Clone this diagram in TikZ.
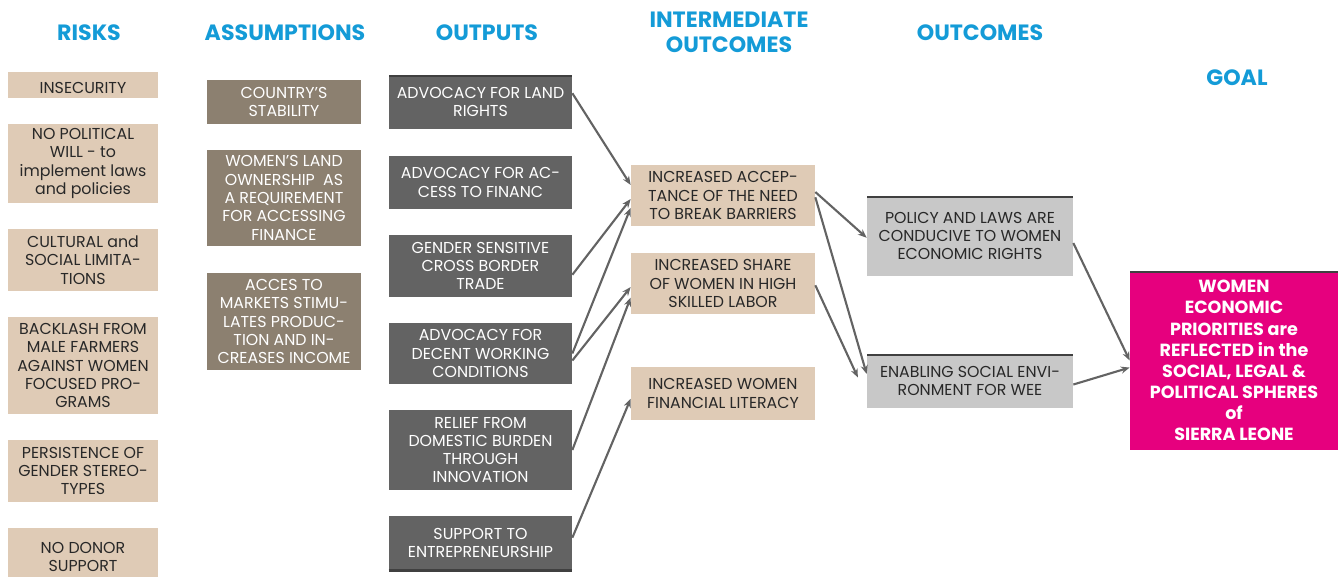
\documentclass[tikz,border=0pt]{standalone}
\usepackage{fontspec}
\setmainfont{Poppins}
\usepackage{tikz}
\usetikzlibrary{
  arrows.meta,
  positioning,
}
\definecolor{tanbox}{RGB}{223, 203, 182}
\definecolor{brownbox}{RGB}{140, 128, 112}
\definecolor{darkbox}{RGB}{99, 99, 99}
\definecolor{lightbox}{RGB}{200, 200, 200}
\definecolor{goalpink}{RGB}{230, 0, 126}
\definecolor{headblue}{RGB}{20, 155, 215}
\definecolor{darktext}{RGB}{40, 40, 40}
\tikzstyle{arrow} = [
  -{Stealth[length=5pt, width=4pt]},
  line width=1.2pt,
  darkbox,
]

\begin{document}
\begin{tikzpicture}[x=0.02cm, y=-0.02cm,
    box/.style={inner sep=1pt, align=center,
                font=\fontsize{9}{10.4}\selectfont,
                execute at begin node={\rule{0pt}{10pt}}},
    topline/.style={path picture={\draw[line width=2pt, black!75]
        (path picture bounding box.north west) --
        (path picture bounding box.north east);}},
    risk/.style={box, fill=tanbox, text=darktext, minimum width=3cm},
    assum/.style={box, fill=brownbox, text=white, minimum width=3.08cm},
    outp/.style={box, fill=darkbox, text=white, minimum width=3.66cm},
    inter/.style={box, fill=tanbox, text=darktext, minimum width=3.68cm},
    outc/.style={box, fill=lightbox, text=darktext, minimum width=4.12cm,
                 topline},
    goalbox/.style={box, fill=goalpink, text=white, minimum width=4.16cm,
                    font=\fontsize{10}{12}\selectfont\bfseries, topline},
    head/.style={text=headblue, align=center,
                 font=\fontsize{12.6}{14.2}\selectfont\bfseries}]
  \useasboundingbox (0,0) rectangle (1343,576);

  % column headings
  \node [head] (hrisk) at (89,33) {RISKS};
  \node [head] (hassum) at (285,33) {ASSUMPTIONS};
  \node [head] (houtp) at (487,33) {OUTPUTS};
  \node [head] (hinter) at (729,32) {INTERMEDIATE\\OUTCOMES};
  \node [head] (houtc) at (980,33) {OUTCOMES};
  \node [head] (hgoal) at (1237,78) {GOAL};

  % risks
  \node [risk, minimum height=0.52cm] (r1) at (83,85) {INSECURITY};
  \node [risk, minimum height=1.58cm] (r2) at (83,163.5)
        {NO POLITICAL\\WILL - to\\implement laws\\and policies};
  \node [risk, minimum height=1.24cm] (r3) at (83,260)
        {CULTURAL and\\SOCIAL LIMITA-\\TIONS};
  \node [risk, minimum height=1.94cm] (r4) at (83,365.5)
        {BACKLASH FROM\\MALE FARMERS\\AGAINST WOMEN\\FOCUSED PRO-\\GRAMS};
  \node [risk, minimum height=1.24cm] (r5) at (83,471)
        {PERSISTENCE OF\\GENDER STEREO-\\TYPES};
  \node [risk, minimum height=1.16cm] (r6) at (83,557)
        {NO DONOR\\SUPPORT};

  % assumptions
  \node [assum, minimum height=0.88cm] (a1) at (284,102)
        {COUNTRY’S\\STABILITY};
  \node [assum, minimum height=1.92cm] (a2) at (284,198)
        {WOMEN’S LAND\\OWNERSHIP~ AS\\A REQUIREMENT\\FOR ACCESSING\\FINANCE};
  \node [assum, minimum height=1.94cm] (a3) at (284,321.5)
        {ACCES TO\\MARKETS STIMU-\\LATES PRODUC-\\TION AND IN-\\CREASES INCOME};

  % outputs
  \node [outp, minimum height=1.08cm, topline] (o1) at (480.5,102)
        {ADVOCACY FOR LAND\\RIGHTS};
  \node [outp, minimum height=1.06cm] (o2) at (480.5,182.5)
        {ADVOCACY FOR AC-\\CESS TO FINANC};
  \node [outp, minimum height=1.24cm] (o3) at (480.5,266)
        {GENDER SENSITIVE\\CROSS BORDER\\TRADE};
  \node [outp, minimum height=1.22cm] (o4) at (480.5,353.5)
        {ADVOCACY FOR\\DECENT WORKING\\CONDITIONS};
  \node [outp, minimum height=1.6cm] (o5) at (480.5,450)
        {RELIEF FROM\\DOMESTIC BURDEN\\THROUGH\\INNOVATION};
  \node [outp, minimum height=1.08cm] (o6) at (480.5,543)
        {SUPPORT TO\\ENTREPRENEURSHIP};
  \draw [line width=2pt, black!75] (o6.south west) -- (o6.south east);

  % intermediate outcomes
  \node [inter, minimum height=1.22cm] (i1) at (723,195.5)
        {INCREASED ACCEP-\\TANCE OF THE NEED\\TO BREAK BARRIERS};
  \node [inter, minimum height=1.22cm] (i2) at (723,283.5)
        {INCREASED SHARE\\OF WOMEN IN HIGH\\SKILLED LABOR};
  \node [inter, minimum height=1.06cm] (i3) at (723,393.5)
        {INCREASED WOMEN\\FINANCIAL LITERACY};

  % outcomes
  \node [outc, minimum height=1.6cm] (c1) at (970,236)
        {POLICY AND LAWS ARE\\CONDUCIVE TO WOMEN\\ECONOMIC RIGHTS};
  \node [outc, minimum height=1.08cm] (c2) at (970,381)
        {ENABLING SOCIAL ENVI-\\RONMENT FOR WEE};

  % goal
  \node [goalbox, minimum height=3.58cm] (g) at (1234,360.5)
        {WOMEN\\ECONOMIC\\PRIORITIES are\\REFLECTED in the\\SOCIAL, LEGAL \&\\POLITICAL SPHERES\\of\\SIERRA LEONE};

  % links
  \draw [arrow] ([yshift=5pt]o1.east) -- ([yshift=6pt]i1.west);
  \draw [arrow] ([yshift=-5pt]o3.east) -- ([yshift=-2pt]i1.west);
  \draw [arrow] (o4.east) -- ([yshift=-7pt]i1.west);
  \draw [arrow] ([yshift=-4pt]o4.east) -- ([yshift=-2pt]i2.west);
  \draw [arrow] (o5.east) -- ([yshift=-8pt]i2.west);
  \draw [arrow] ([yshift=3pt]o6.east) -- ([yshift=-3pt]i3.west);
  \draw [arrow] ([yshift=2pt]i1.east) -- ([yshift=-1pt]c1.west);
  \draw [arrow] ([yshift=-1pt]i1.east) -- ([yshift=4pt]c2.west);
  \draw [arrow] ([yshift=-1pt]i2.east) -- ([xshift=-5pt,yshift=2pt]c2.west);
  \draw [arrow] ([yshift=-4pt]c1.east) -- ([yshift=0pt]g.west);
  \draw [arrow] ([yshift=-2pt]c2.east) -- ([yshift=-4pt]g.west);
\end{tikzpicture}
\end{document}
